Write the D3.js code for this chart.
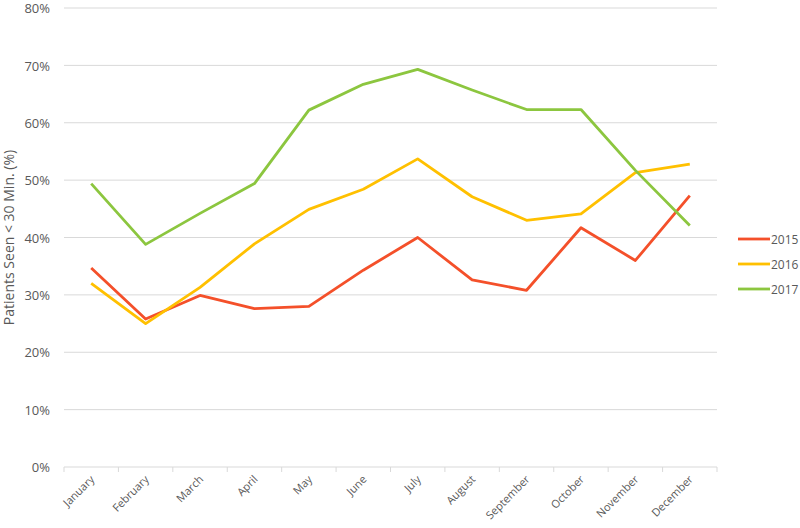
<!DOCTYPE html>
<html>
<head>
<meta charset="utf-8">
<script src="https://cdn.jsdelivr.net/npm/d3@7"></script>
<style>
  body { margin: 0; background: #fff; }
  text { font-family: "Open Sans", sans-serif; fill: #595959; }
</style>
</head>
<body>
<div id="chart-area"></div>
<script>
// dados
const months = ["January", "February", "March", "April", "May", "June", "July",
  "August", "September", "October", "November", "December"]
const years = ["2015", "2016", "2017"]
const values2015 = [34.7, 25.8, 29.9, 27.6, 28.0, 34.3, 40.0, 32.6, 30.8, 41.7, 36.0, 47.3]
const values2016 = [32.0, 25.0, 31.3, 38.9, 44.9, 48.4, 53.7, 47.1, 43.0, 44.1, 51.3, 52.8]
const values2017 = [49.4, 38.8, 44.2, 49.4, 62.2, 66.7, 69.3, 65.7, 62.3, 62.3, 51.7, 42.1]
const yTicks = [0, 10, 20, 30, 40, 50, 60, 70, 80]
const colors = ["#F4502A", "#FFC000", "#8CC63F"]

const series = years.map((y, i) => ({
  name: y,
  color: colors[i],
  values: [values2015, values2016, values2017][i]
}))

// margens
const MARGIN = { LEFT: 64, RIGHT: 83, TOP: 8, BOTTOM: 61 }
const WIDTH = 800 - MARGIN.LEFT - MARGIN.RIGHT
const HEIGHT = 528 - MARGIN.TOP - MARGIN.BOTTOM

const svg = d3.select("#chart-area").append("svg")
  .attr("width", 800)
  .attr("height", 528)

const g = svg.append("g")
  .attr("transform", `translate(${MARGIN.LEFT}, ${MARGIN.TOP})`)

const x = d3.scaleBand()
  .domain(months)
  .range([0, WIDTH])

const y = d3.scaleLinear()
  .domain([0, 80])
  .range([HEIGHT, 0])

// grade
g.append("g")
  .selectAll("line")
  .data(yTicks.filter(d => d > 0))
  .enter().append("line")
    .attr("x1", 0)
    .attr("x2", WIDTH)
    .attr("y1", d => y(d))
    .attr("y2", d => y(d))
    .attr("stroke", "#d9d9d9")
    .attr("stroke-width", 1)

// eixo y
const yAxisCall = d3.axisLeft(y)
  .tickValues(yTicks)
  .tickFormat(d => d + "%")
  .tickSize(0)
  .tickPadding(14)
const yAxis = g.append("g").call(yAxisCall)
yAxis.select(".domain").remove()
yAxis.selectAll("text")
  .attr("font-size", "13px")
  .attr("dy", "0.36em")
  .style("fill", "#595959")

// eixo x
const xAxis = g.append("g")
  .attr("transform", `translate(0, ${HEIGHT})`)
xAxis.append("line")
  .attr("x1", 0)
  .attr("x2", WIDTH)
  .attr("stroke", "#d9d9d9")
xAxis.selectAll(".tick-mark")
  .data(d3.range(months.length + 1))
  .enter().append("line")
    .attr("x1", i => i * x.step())
    .attr("x2", i => i * x.step())
    .attr("y1", 0)
    .attr("y2", 5)
    .attr("stroke", "#d9d9d9")
xAxis.selectAll(".lbl")
  .data(months)
  .enter().append("text")
    .attr("text-anchor", "end")
    .attr("font-size", "11px")
    .attr("transform", d => `translate(${x(d) + x.bandwidth() / 2 + 4}, 13) rotate(-45)`)
    .text(d => d)

// titulo eixo y
svg.append("text")
  .attr("x", -(MARGIN.TOP + HEIGHT / 2))
  .attr("y", 14)
  .attr("font-size", "14px")
  .attr("text-anchor", "middle")
  .attr("transform", "rotate(-90)")
  .text("Patients Seen < 30 Min. (%)")

// linhas
const line = d3.line()
  .x((d, i) => x(months[i]) + x.bandwidth() / 2)
  .y(d => y(d))

g.selectAll(".series")
  .data(series)
  .enter().append("path")
    .attr("fill", "none")
    .attr("stroke", d => d.color)
    .attr("stroke-width", 2.8)
    .attr("stroke-linejoin", "round")
    .attr("d", d => line(d.values))

// legenda
const legend = svg.append("g")
  .attr("transform", "translate(738, 239)")
series.forEach((s, i) => {
  const row = legend.append("g").attr("transform", `translate(0, ${i * 25})`)
  row.append("line")
    .attr("x1", 0).attr("x2", 32)
    .attr("stroke", s.color)
    .attr("stroke-width", 2.8)
  row.append("text")
    .attr("x", 33)
    .attr("y", 4.5)
    .attr("font-size", "12px")
    .text(s.name)
})
</script>
</body>
</html>
